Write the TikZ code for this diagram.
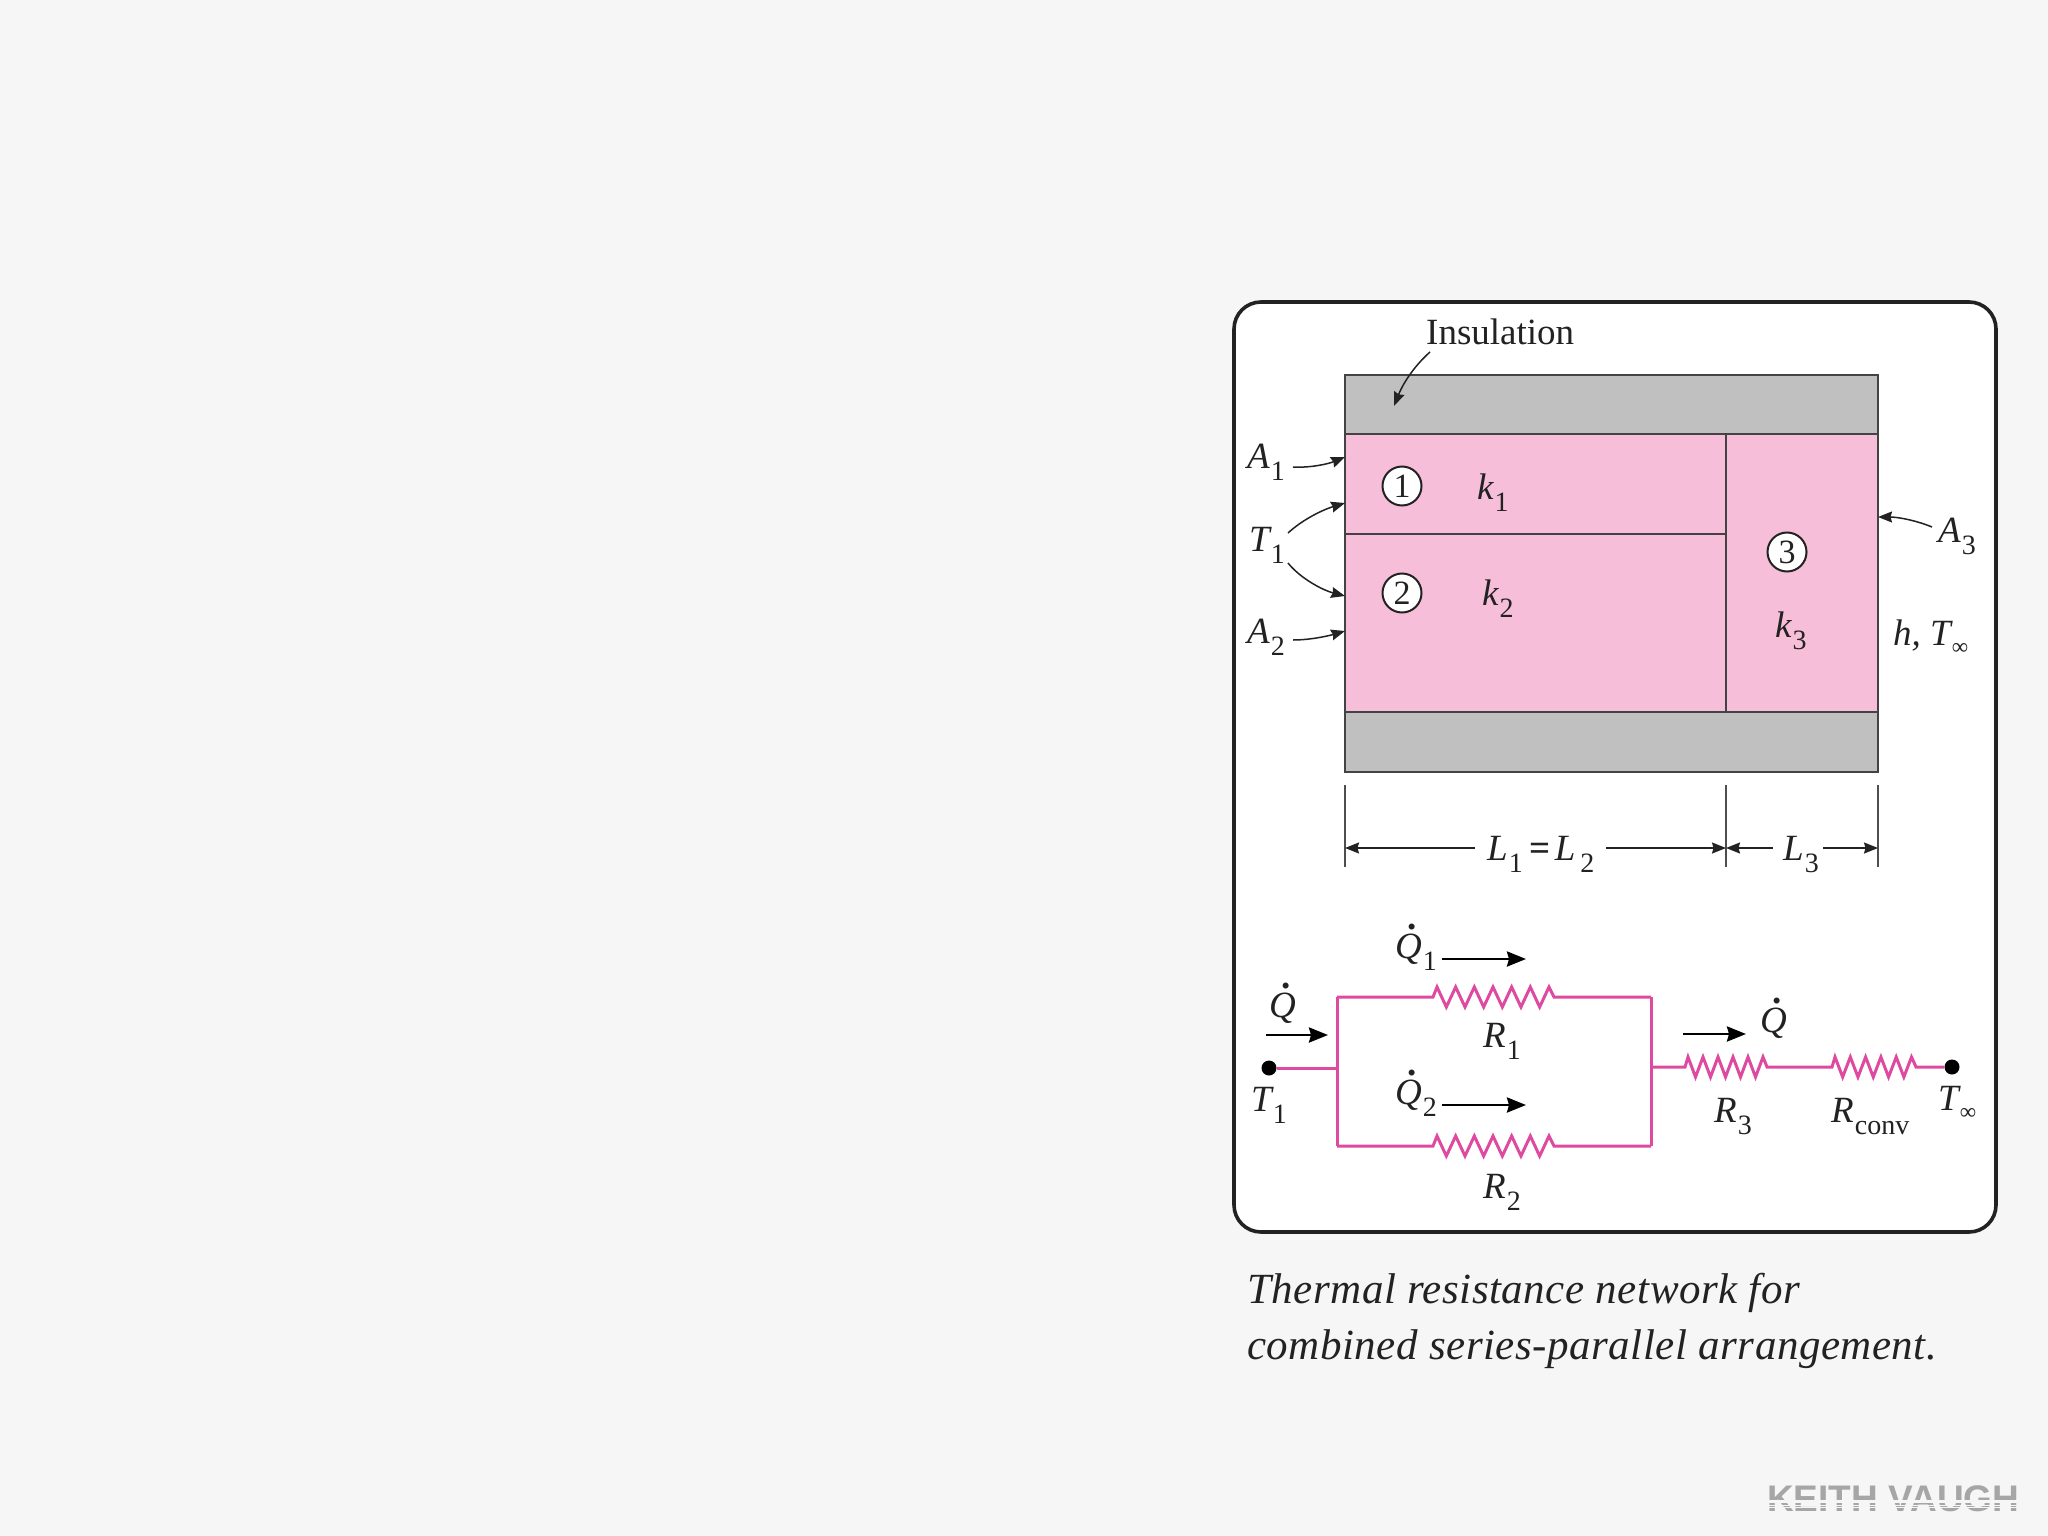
\documentclass[tikz,border=0pt]{standalone}
\usepackage{fontspec}
\setmainfont{Liberation Serif}
\newfontfamily\wmfont{Liberation Sans}
\usetikzlibrary{arrows.meta}
\definecolor{bgc}{HTML}{F6F6F6}
\definecolor{pinkc}{HTML}{F6BED8}
\definecolor{grayc}{HTML}{C0C0C0}
\definecolor{wirec}{HTML}{DE4A9F}
\definecolor{inkc}{HTML}{222222}
\newcommand\sbs[1]{\kern1pt\raisebox{-12.5pt}{\fontsize{28}{28}\selectfont\upshape #1}}
\newcommand\sbi{\kern1pt\raisebox{-9pt}{\fontsize{23}{23}\selectfont\upshape ∞}}
\newcommand\dotq{\rlap{\kern12pt\raisebox{29pt}{\upshape\bfseries .}}Q}
\tikzset{
  lab/.style={anchor=base west,inner sep=0pt,text=inkc,font=\fontsize{37}{37}\selectfont\itshape},
  captext/.style={anchor=base west,inner sep=0pt,text=inkc,font=\fontsize{43}{43}\selectfont\itshape\addfontfeature{LetterSpace=1.2}},
  num/.style={circle,draw=inkc,line width=2pt,fill=white,minimum size=39pt,inner sep=0pt,text=inkc,font=\fontsize{34}{34}\selectfont},
  wall/.style={draw=inkc!85,line width=2.6pt},
  lead/.style={draw=inkc,line width=1.5pt,-{Stealth[length=14pt,width=11pt,inset=1.5pt]}},
  flow/.style={draw=black,line width=2.8pt,-{Stealth[length=19pt,width=15pt,inset=2pt]}},
  dimen/.style={draw=inkc,line width=1.4pt,-{Stealth[length=14pt,width=11pt,inset=1.5pt]}},
  tickline/.style={draw=inkc!80,line width=1.1pt},
  wire/.style={draw=wirec,line width=3pt,line join=miter},
  term/.style={circle,fill=black,minimum size=15pt,inner sep=0pt}
}
\begin{document}
\begin{tikzpicture}[x=1pt,y=-1pt]
\useasboundingbox[fill=bgc] (0,0) rectangle (2048,1536);
% card
\draw[fill=white,draw=inkc,line width=3.6pt,rounded corners=27pt] (1234,302) rectangle (1996,1232);
% body
\fill[grayc] (1345,375) rectangle (1878,772);
\fill[pinkc] (1345,434) rectangle (1878,712);
\draw[wall] (1345,375) rectangle (1878,772);
\draw[wall] (1345,434) -- (1878,434);
\draw[wall] (1345,712) -- (1878,712);
\draw[wall] (1345,534) -- (1726,534);
\draw[wall] (1726,434) -- (1726,712);
% labels with leaders
\node[lab] (ins) at (1426,344) {\upshape Insulation};
\coordinate (insT) at (1394,406);
\draw[lead] (1430,352) .. controls (1412,368) and (1402,386) .. (insT);
\node[lab] (a1) at (1247,468) {A\sbs{1}};
\node[lab] (t1) at (1249,551) {T\sbs{1}};
\node[lab] (a2) at (1247,643) {A\sbs{2}};
\node[lab] (a3) at (1938,542) {A\sbs{3}};
\node[lab] (hT) at (1893,645) {h, T\sbi};
\coordinate (a1T) at (1345,457);
\coordinate (t1U) at (1345,503);
\coordinate (t1D) at (1345,596);
\coordinate (a2T) at (1345,631);
\coordinate (a3T) at (1878,517);
\draw[lead] (1293,467) .. controls (1310,468) and (1328,464) .. (a1T);
\draw[lead] (1288,533) .. controls (1302,520) and (1322,510) .. (t1U);
\draw[lead] (1288,563) .. controls (1300,578) and (1322,590) .. (t1D);
\draw[lead] (1293,640) .. controls (1310,640) and (1328,636) .. (a2T);
\draw[lead] (1932,527) .. controls (1915,520) and (1897,517) .. (a3T);
\node[num] (c1) at (1402,486) {1};
\node[num] (c2) at (1402,593) {2};
\node[num] (c3) at (1787,552) {3};
\node[lab] (k1) at (1477,499) {k\sbs{1}};
\node[lab] (k2) at (1482,605) {k\sbs{2}};
\node[lab] (k3) at (1775,637) {k\sbs{3}};
% dimensions
\coordinate (d0) at (1345,848);
\coordinate (d1) at (1726,848);
\coordinate (d2) at (1878,848);
\draw[tickline] (1345,785) -- (1345,867);
\draw[tickline] (1726,785) -- (1726,867);
\draw[tickline] (1878,785) -- (1878,867);
\node[lab] (l12) at (1487,860) {L\sbs{1}\kern7pt\upshape\bfseries =\kern4pt\mdseries\itshape L\kern4pt\sbs{2}};
\node[lab] (l3) at (1783,860) {L\sbs{3}};
\draw[dimen] (1475,848) -- (d0);
\draw[dimen] (1606,848) -- (d1);
\draw[dimen] (1773,848) -- (d1);
\draw[dimen] (1823,848) -- (d2);
% circuit
\node[term] (tL) at (1269,1068) {};
\node[term] (tR) at (1952,1067) {};
\coordinate (jL) at (1337,1068);
\coordinate (jR) at (1651,1067);
\coordinate (ulc) at (1337,997);
\coordinate (llc) at (1337,1146);
\coordinate (urc) at (1651,997);
\coordinate (lrc) at (1651,1146);
\draw[wire] (tL) -- (jL);
\draw[wire] (ulc) -- (llc);
\draw[wire] (urc) -- (lrc);
\draw[wire] (ulc) -- (1433,997) \foreach \i in {0,...,12} { -- ({1437+\i*9.33},{997-cos(180*\i)*10}) } -- (1554,997) -- (urc);
\draw[wire] (llc) -- (1433,1146) \foreach \i in {0,...,12} { -- ({1437+\i*9.33},{1146-cos(180*\i)*10}) } -- (1554,1146) -- (lrc);
\draw[wire] (jR) -- (1685,1067) \foreach \i in {0,...,10} { -- ({1688+\i*7.5},{1067-cos(180*\i)*10}) } -- (1767,1067) -- (1832,1067) \foreach \i in {0,...,10} { -- ({1835+\i*7.65},{1067-cos(180*\i)*10}) } -- (1916,1067) -- (tR);
\draw[flow] (1266,1035) -- (1328,1035);
\draw[flow] (1442,959) -- (1526,959);
\draw[flow] (1442,1105) -- (1526,1105);
\draw[flow] (1683,1034) -- (1746,1034);
\node[lab] (q0) at (1269,1017) {\dotq};
\node[lab] (q1) at (1395,958) {\dotq\sbs{1}};
\node[lab] (q2) at (1395,1104) {\dotq\sbs{2}};
\node[lab] (q3) at (1760,1032) {\dotq};
\node[lab] (r1) at (1483,1047) {R\sbs{1}};
\node[lab] (r2) at (1483,1198) {R\sbs{2}};
\node[lab] (r3) at (1714,1122) {R\sbs{3}};
\node[lab] (rc) at (1831,1122) {R\sbs{conv}};
\node[lab] (t1b) at (1251,1111) {T\sbs{1}};
\node[lab] (tinf) at (1938,1110) {T\sbi};
% caption
\node[captext] (cap1) at (1247,1303) {Thermal resistance network for};
\node[captext] (cap2) at (1247,1359) {combined series-parallel arrangement.};
% watermark
\node[anchor=base west,inner sep=0pt,text=black!35,font=\fontsize{37}{37}\selectfont\wmfont\bfseries] (wm) at (1767,1511) {KEITH VAUGH};
\foreach \yy/\hh in {1500/2.5,1504.5/1.2,1507/1.2}{\fill[bgc] (1760,\yy) rectangle (2030,\yy+\hh);}
\end{tikzpicture}
\end{document}
